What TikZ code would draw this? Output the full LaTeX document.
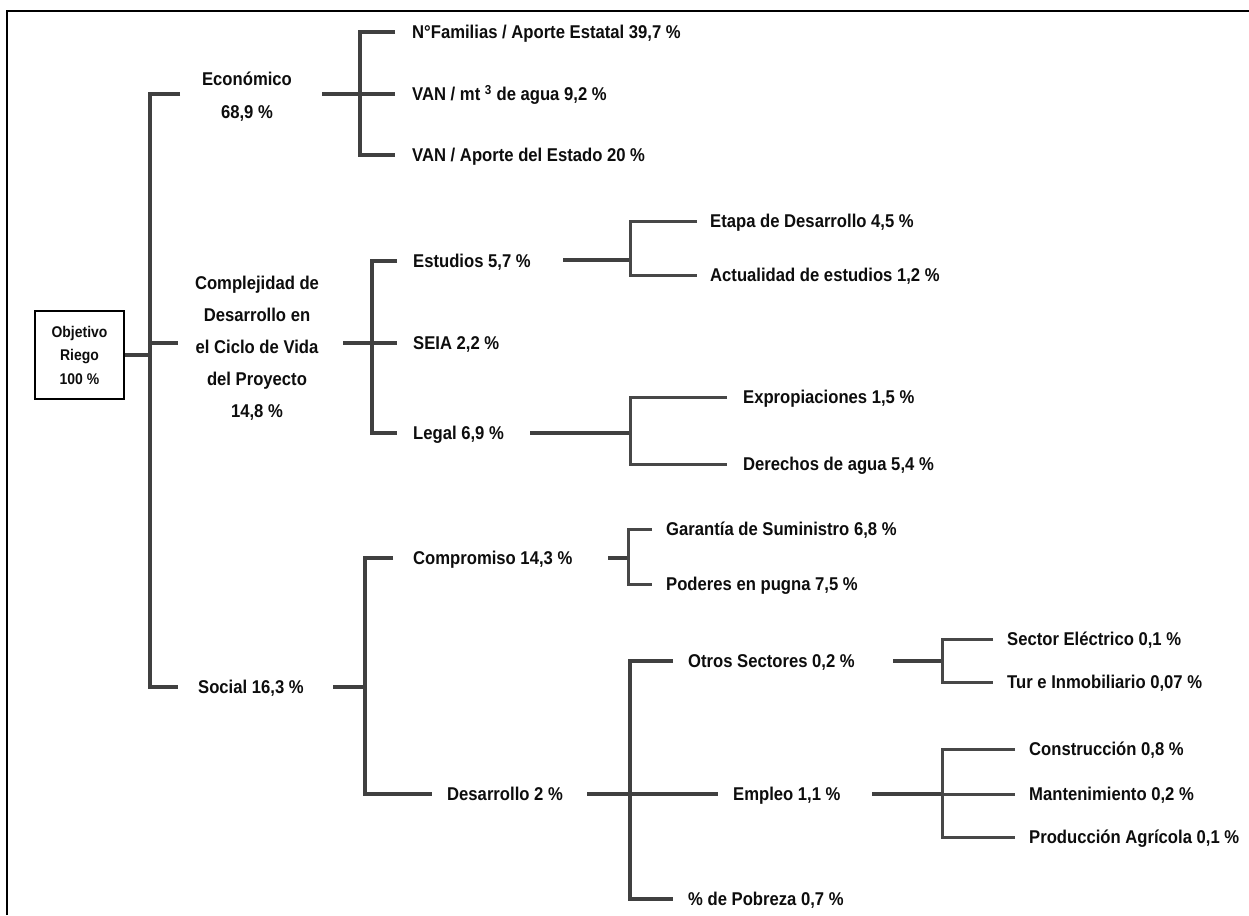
\documentclass[tikz,border=0pt]{standalone}
\usepackage{fontspec}
\setmainfont{Liberation Sans}[FakeStretch=0.9]
\tikzset{
  conn/.style={line width=3.4pt, draw=black!75},
  thinconn/.style={line width=3pt, draw=black!72},
  lbl/.style={font=\bfseries\fontsize{18.5}{22}\selectfont, text=black!95, inner sep=0pt, anchor=west, text height=13.2pt, text depth=0pt},
  mlbl/.style={font=\bfseries\fontsize{18.5}{32}\selectfont, text=black!95, inner sep=0pt, align=center},
}
\begin{document}
\begin{tikzpicture}[x=1pt,y=-1pt]
\useasboundingbox (0,0) rectangle (1249,915);
% frame
\draw[line width=2.4pt, black] (7,915) -- (7,11) -- (1249,11);
% root
\node[draw=black, line width=1.5pt, minimum width=89pt, minimum height=88pt, inner sep=0pt, align=center,
      font=\bfseries\fontsize{15.5}{23.5}\selectfont, text=black!95] (root) at (79.5,355) {Objetivo\\Riego\\100 \%};
\draw[conn] (root.east) -- (150,355);
\coordinate (tr) at (150,343);
\draw[conn] (180,94) -- (150,94) -- (150,687) -- (178,687);
\draw[conn] (tr) -- (178,343);
% level 1
\node[mlbl, font=\bfseries\fontsize{18.5}{33}\selectfont] (eco) at (247,97) {Económico\\68,9 \%};
\node[mlbl] (comp) at (257,348) {Complejidad de\\Desarrollo en\\el Ciclo de Vida\\del Proyecto\\14,8 \%};
\node[lbl] (soc) at (198,687) {Social 16,3 \%};
% Economico group
\node[lbl] (e1) at (412,32) {N°Familias / Aporte Estatal 39,7 \%};
\node[lbl] (e2) at (412,94) {VAN / mt \textsuperscript{3} de agua 9,2 \%};
\node[lbl] (e3) at (412,155) {VAN / Aporte del Estado 20 \%};
\coordinate (je) at (360,94);
\draw[conn] (322,94) -- (je) -- ([xshift=-17pt]e2.west);
\draw[conn] ([xshift=-17pt]e1.west) -| (je) |- ([xshift=-17pt]e3.west);
% Complejidad group
\node[lbl] (c1) at (413,261) {Estudios 5,7 \%};
\node[lbl] (c2) at (413,343) {SEIA 2,2 \%};
\node[lbl] (c3) at (413,433) {Legal 6,9 \%};
\coordinate (jc) at (372,343);
\draw[conn] (343,343) -- (jc) -- ([xshift=-16pt]c2.west);
\draw[conn] ([xshift=-16pt]c1.west) -| (jc) |- ([xshift=-16pt]c3.west);
% Estudios children
\node[lbl] (s1) at (710,221) {Etapa de Desarrollo 4,5 \%};
\node[lbl] (s2) at (710,275) {Actualidad de estudios 1,2 \%};
\coordinate (js) at (630,260);
\draw[conn] (563,260) -- (js);
\draw[thinconn] ([xshift=-13pt]s1.west) -| (js) |- ([xshift=-13pt]s2.west);
% Legal children
\node[lbl] (l1) at (743,397) {Expropiaciones 1,5 \%};
\node[lbl] (l2) at (743,464) {Derechos de agua 5,4 \%};
\coordinate (jl) at (630,433);
\draw[conn] (530,433) -- (jl);
\draw[thinconn] ([xshift=-16pt]l1.west) -| (jl) |- ([xshift=-16pt]l2.west);
% Social group
\node[lbl] (o1) at (413,558) {Compromiso 14,3 \%};
\node[lbl] (o2) at (447,794) {Desarrollo 2 \%};
\coordinate (jo) at (365,687);
\draw[conn] (333,687) -- (jo);
\draw[conn] ([xshift=-20pt]o1.west) -| (jo) |- ([xshift=-15pt]o2.west);
% Compromiso children
\node[lbl] (p1) at (666,529) {Garantía de Suministro 6,8 \%};
\node[lbl] (p2) at (666,584) {Poderes en pugna 7,5 \%};
\coordinate (jp) at (628,558);
\draw[conn] (608,558) -- (jp);
\draw[thinconn] ([xshift=-14pt]p1.west) -| (jp) |- ([xshift=-14pt]p2.west);
% Desarrollo children
\node[lbl] (d1) at (688,661) {Otros Sectores 0,2 \%};
\node[lbl] (d2) at (733,794) {Empleo 1,1 \%};
\node[lbl] (d3) at (688,899) {\% de Pobreza 0,7 \%};
\coordinate (jd) at (630,794);
\draw[conn] (587,794) -- ([xshift=-15pt]d2.west);
\draw[conn] ([xshift=-15pt]d1.west) -| (jd) |- ([xshift=-15pt]d3.west);
% Otros children
\node[lbl] (q1) at (1007,639) {Sector Eléctrico 0,1 \%};
\node[lbl] (q2) at (1007,682) {Tur e Inmobiliario 0,07 \%};
\coordinate (jq) at (942,661);
\draw[conn] (893,661) -- (jq);
\draw[thinconn] ([xshift=-14pt]q1.west) -| (jq) |- ([xshift=-14pt]q2.west);
% Empleo children
\node[lbl] (m1) at (1029,749) {Construcción 0,8 \%};
\node[lbl] (m2) at (1029,794) {Mantenimiento 0,2 \%};
\node[lbl] (m3) at (1029,837) {Producción Agrícola 0,1 \%};
\coordinate (jm) at (942,794);
\draw[conn] (872,794) -- (jm);
\draw[thinconn] (jm) -- ([xshift=-14pt]m2.west);
\draw[thinconn] ([xshift=-14pt]m1.west) -| (jm) |- ([xshift=-14pt]m3.west);
\end{tikzpicture}
\end{document}
